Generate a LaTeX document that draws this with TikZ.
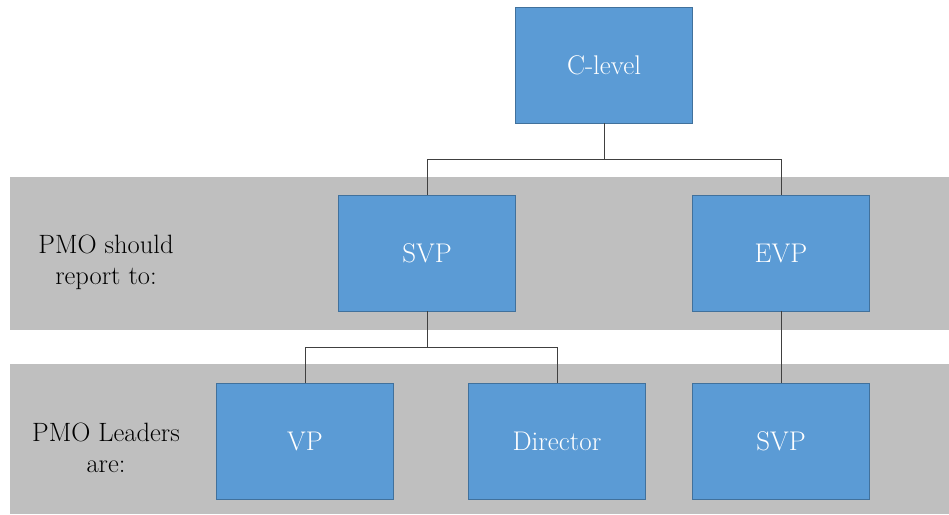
\documentclass[tikz,border=0pt]{standalone}
\usepackage{xcolor}
\usepackage{tikz}
\usetikzlibrary{positioning}
\definecolor{boxblue}{RGB}{91, 155, 213}
\definecolor{boxedge}{RGB}{65, 113, 156}
\definecolor{bandgray}{RGB}{191, 191, 191}
\definecolor{linegray}{RGB}{64, 64, 64}

\begin{document}
\begin{tikzpicture}[x=1pt, y=-1pt,
  rolebox/.style={rectangle, draw=boxedge, fill=boxblue, line width=0.8pt, minimum width=177pt, minimum height=116pt, inner sep=0pt, text=white, font=\fontsize{27}{32}\selectfont},
  bandlabel/.style={align=center, font=\fontsize{26.5}{31}\selectfont, text=black},
  tie/.style={draw=linegray, line width=0.9pt}]
\useasboundingbox (0,0) rectangle (949,514);

% Bands
\fill[bandgray] (10,177) rectangle (949,330);
\fill[bandgray] (10,364) rectangle (949,514);
\node[bandlabel] at (106,262) (reportlbl) {PMO should\\report to:};
\node[bandlabel] at (106,448) (leaderlbl) {PMO Leaders\\are:};

% Roles
\node[rolebox] at (604,65) (clevel) {C-level};
\node[rolebox] at (427,253) (svp) {SVP};
\node[rolebox] at (781,253) (evp) {EVP};
\node[rolebox] at (305,441) (vp) {VP};
\node[rolebox] at (557,441) (director) {Director};
\node[rolebox] at (781,441) (svplead) {SVP};

% Connections
\draw[tie] (clevel.south) -- ++(0,36) coordinate (ctop);
\foreach \target in {svp,evp} {
    \draw[tie] (ctop) -| (\target.north);
}
\draw[tie] (svp.south) -- ++(0,36) coordinate (stop);
\foreach \target in {vp,director} {
    \draw[tie] (stop) -| (\target.north);
}
\draw[tie] (evp.south) -- (svplead.north);
\end{tikzpicture}
\end{document}
